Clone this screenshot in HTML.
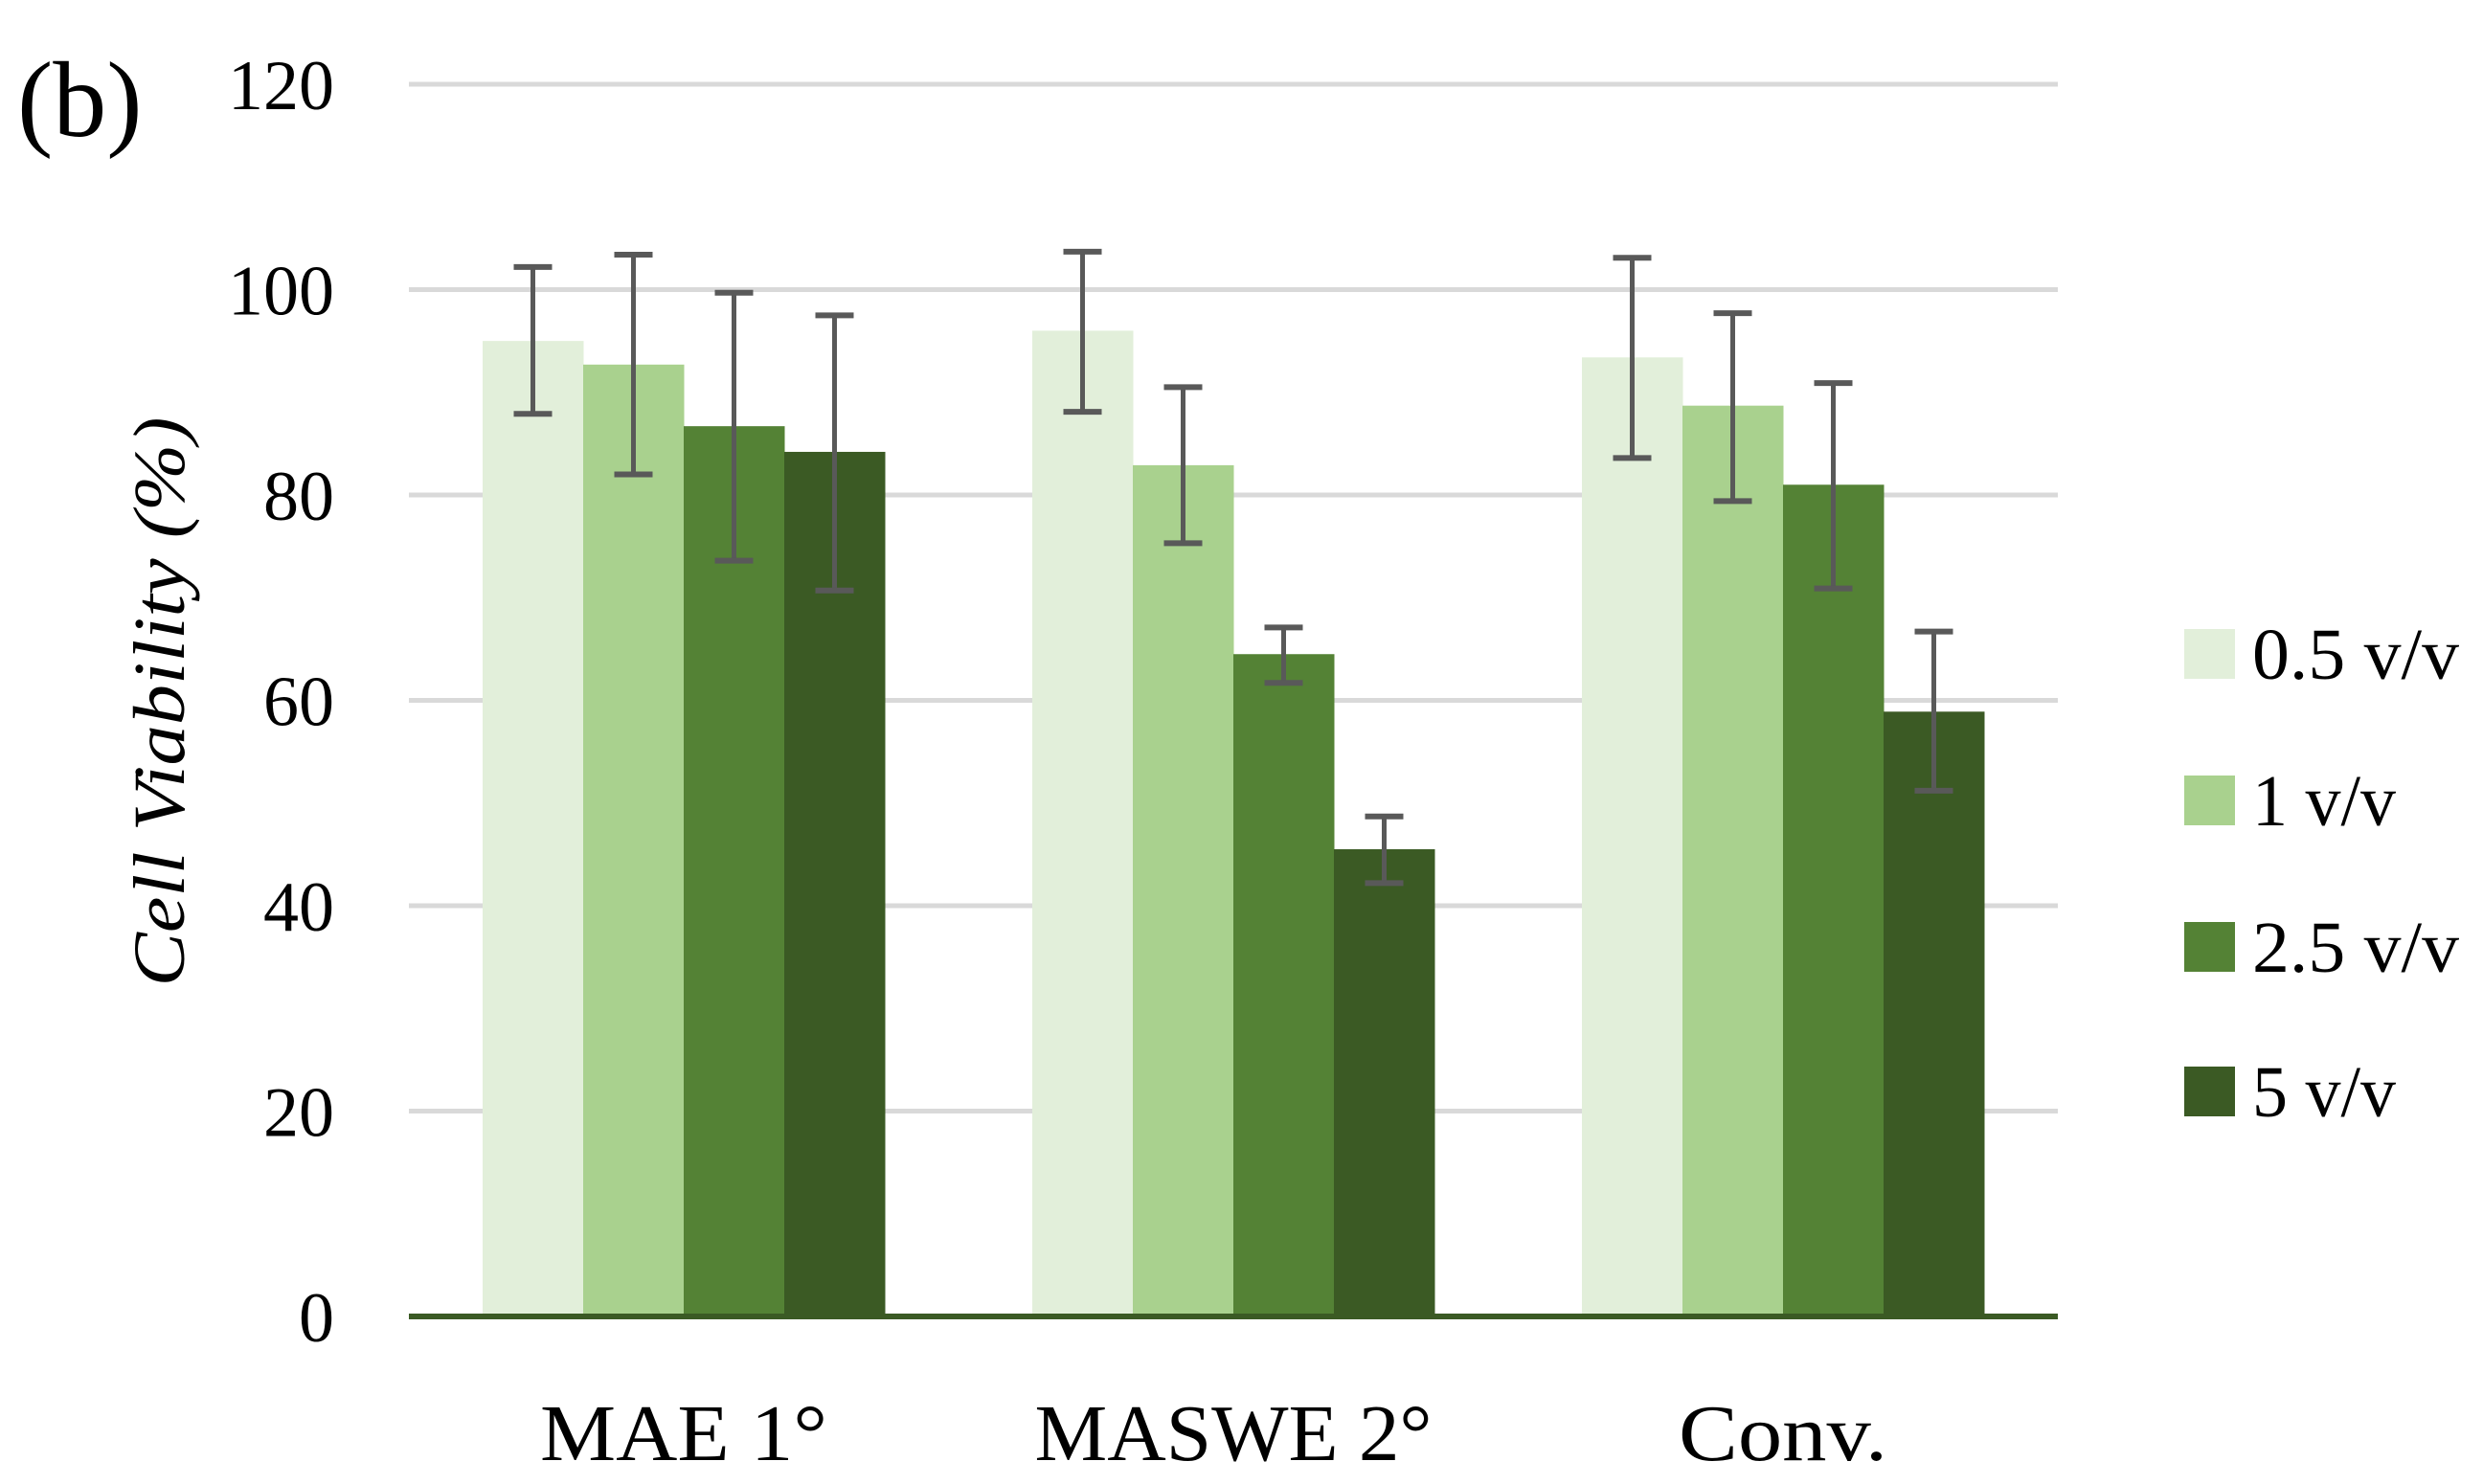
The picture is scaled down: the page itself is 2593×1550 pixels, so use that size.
<!DOCTYPE html>
<html><head><meta charset="utf-8"><style>
html,body{margin:0;padding:0;background:#fff;}
svg{display:block;font-family:"Liberation Serif",serif;}
</style></head><body>
<svg id="chart" width="2593" height="1550" viewBox="0 0 2593 1550" xmlns="http://www.w3.org/2000/svg">
<text x="18" y="142" font-size="112">(b)</text>
<text transform="translate(192,733) rotate(-90)" text-anchor="middle" font-size="76" font-style="italic" textLength="595" lengthAdjust="spacingAndGlyphs">Cell Viability (%)</text>
<g id="grid"></g><g id="bars"></g><g id="errs"></g><g id="labels"></g><g id="legend"></g>
</svg>
<script>
const categories = ["MAE 1°", "MASWE 2°", "Conv."];
const seriesNames = ["0.5 v/v", "1 v/v", "2.5 v/v", "5 v/v"];
const series05 = [95.0, 96.0, 93.4];
const series1 = [92.7, 82.9, 88.7];
const series25 = [86.7, 64.5, 81.0];
const series5 = [84.2, 45.5, 58.9];
const errHi05 = [102.2, 103.7, 103.1];
const errLo05 = [87.9, 88.1, 83.6];
const errHi1 = [103.4, 90.5, 97.7];
const errLo1 = [82.0, 75.3, 79.4];
const errHi25 = [99.7, 67.1, 90.9];
const errLo25 = [73.6, 61.7, 70.9];
const errHi5 = [97.5, 48.7, 66.7];
const errLo5 = [70.7, 42.2, 51.2];
const yTicks = [0, 20, 40, 60, 80, 100, 120];

const values = [series05, series1, series25, series5];
const his = [errHi05, errHi1, errHi25, errHi5];
const los = [errLo05, errLo1, errLo25, errLo5];
const colors = ["#e2efda", "#a9d18e", "#548235", "#3b5a24"];
const NS = "http://www.w3.org/2000/svg";
const X0 = 427, X1 = 2149, Y0 = 1375, Y120 = 88;
const yScale = v => Y0 - (v / 120) * (Y0 - Y120);
const groupW = (X1 - X0) / categories.length;
const barW = 105;
const xBar = (g, s) => X0 + g * groupW + (groupW - barW * seriesNames.length) / 2 + s * barW;
function mk(tag, attrs, parent) {
  const e = document.createElementNS(NS, tag);
  for (const k in attrs) e.setAttribute(k, attrs[k]);
  parent.appendChild(e); return e;
}
const grid = document.getElementById('grid');
const labels = document.getElementById('labels');
yTicks.forEach(t => {
  if (t > 0) {
    const l = mk('line', {x1: X0, x2: X1, y1: yScale(t), y2: yScale(t), stroke: '#d9d9d9', 'stroke-width': 5}, grid);
    
    
  }
  const tx = mk('text', {x: 349, y: yScale(t) + 26, 'text-anchor': 'end', 'font-size': 74}, labels);
  tx.textContent = t;
  
  
});
const barsG = document.getElementById('bars');
const errG = document.getElementById('errs');
values.forEach((arr, s) => {
  arr.forEach((v, g) => {
    const x = xBar(g, s);
    const r = mk('rect', {x: x, y: yScale(v), width: barW + 0.5, height: Y0 - yScale(v), fill: colors[s]}, barsG);
    
    
    const cx = x + barW / 2;
    const eg = mk('g', {stroke: '#595959', 'stroke-width': 5}, errG);
    
    
    mk('line', {x1: cx, x2: cx, y1: yScale(his[s][g]), y2: yScale(los[s][g])}, eg);
    mk('line', {x1: cx - 20, x2: cx + 20, y1: yScale(his[s][g]), y2: yScale(his[s][g]), 'stroke-width': 6}, eg);
    mk('line', {x1: cx - 20, x2: cx + 20, y1: yScale(los[s][g]), y2: yScale(los[s][g]), 'stroke-width': 6}, eg);
  });
});
const ax = mk('line', {x1: X0, x2: X1, y1: Y0, y2: Y0, stroke: '#3b5a24', 'stroke-width': 6}, labels);


const catLens = [300, 415, 218];
categories.forEach((c, g) => {
  const t = mk('text', {x: X0 + g * groupW + groupW / 2, y: 1525, 'text-anchor': 'middle', 'font-size': 84, textLength: catLens[g], lengthAdjust: 'spacingAndGlyphs'}, labels);
  t.textContent = c;
  
  
});
const leg = document.getElementById('legend');
const legY = [683, 836, 989, 1140];
const legLens = [216, 150, 216, 150];
seriesNames.forEach((n, s) => {
  const g = mk('g', {}, leg);
  
  
  mk('rect', {x: 2281, y: legY[s] - 26, width: 53, height: 52, fill: colors[s]}, g);
  const t = mk('text', {x: 2352, y: legY[s] + 26, 'font-size': 76, textLength: legLens[s], lengthAdjust: 'spacingAndGlyphs'}, g);
  t.textContent = n;
});
</script>
</body></html>
